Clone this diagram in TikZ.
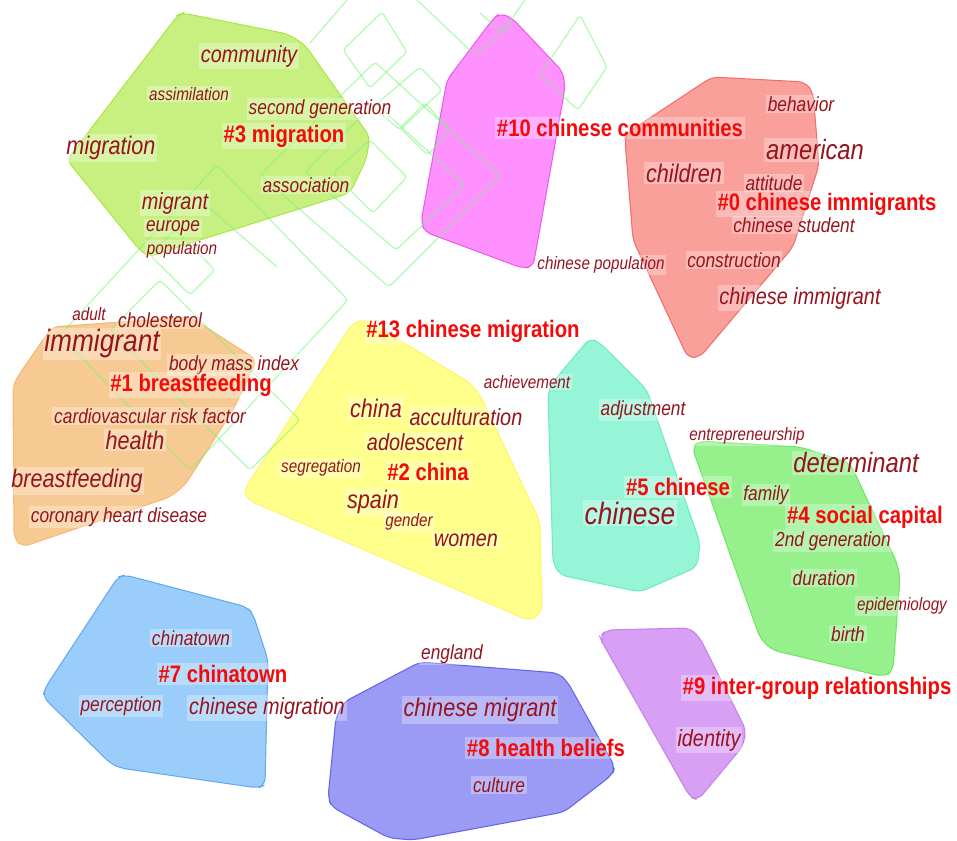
\documentclass[tikz,border=0pt]{standalone}
\usepackage{fontspec}
\setmainfont{Liberation Sans}[FakeStretch=0.85]
\definecolor{kwred}{RGB}{150,20,30}
\definecolor{labred}{RGB}{245,10,10}
\definecolor{bggreen}{RGB}{120,245,120}
\definecolor{c3}{RGB}{200,240,128}   \definecolor{c3line}{RGB}{170,232,70}
\definecolor{c10}{RGB}{255,145,255}  \definecolor{c10line}{RGB}{235,90,235}
\definecolor{c0}{RGB}{250,160,155}   \definecolor{c0line}{RGB}{240,110,110}
\definecolor{c1}{RGB}{247,202,148}   \definecolor{c1line}{RGB}{245,185,120}
\definecolor{c13}{RGB}{255,255,140}  \definecolor{c13line}{RGB}{255,245,100}
\definecolor{c5}{RGB}{150,245,215}   \definecolor{c5line}{RGB}{110,235,195}
\definecolor{c4}{RGB}{150,240,140}   \definecolor{c4line}{RGB}{110,230,100}
\definecolor{c9}{RGB}{215,160,245}   \definecolor{c9line}{RGB}{195,130,235}
\definecolor{c7}{RGB}{155,205,250}   \definecolor{c7line}{RGB}{100,170,240}
\definecolor{c8}{RGB}{155,155,245}   \definecolor{c8line}{RGB}{100,100,235}
\tikzset{
  kw/.style={text=kwred, font=\itshape\fontsize{#1}{#1}\selectfont, inner sep=1pt,
    fill=white, fill opacity=0.3, text opacity=1},
  lab/.style={text=labred, font=\bfseries\fontsize{13.6}{14}\selectfont, inner sep=1pt,
    fill=white, fill opacity=0.3, text opacity=1},
  clus/.style={fill=#1, draw=#1line, line width=0.6pt, rounded corners=4pt},
  bgline/.style={draw=bggreen, line width=0.7pt, opacity=0.55, rounded corners=2pt}
}
\begin{document}
\begin{tikzpicture}[x=0.02cm,y=-0.02cm]
 \useasboundingbox[fill=white] (0,0) rectangle (957,841);
 % cluster areas
 \draw[clus=c3] (183,13)--(288,34)--(305,45)--(370,137)--(366,160)--(350,193)--(200,240)--(148,257)--(138,248)--(67,160)--(178,15)--cycle;
 \draw[clus=c10] (500,13)--(512,18)--(563,72)--(565,88)--(533,267)--(522,268)--(425,232)--(421,222)--(447,80)--(493,19)--cycle;
 \draw[clus=c0] (627,133)--(712,77)--(805,82)--(813,92)--(819,165)--(793,247)--(700,357)--(688,358)--(633,240)--(625,140)--cycle;
 \draw[clus=c1] (20,373)--(52,327)--(190,317)--(257,360)--(233,410)--(185,485)--(170,497)--(22,547)--(14,538)--(13,385)--cycle;
 \draw[clus=c13] (352,324)--(365,319)--(470,383)--(480,395)--(540,522)--(542,612)--(530,621)--(248,500)--(244,490)--cycle;
 \draw[clus=c5] (590,338)--(600,343)--(647,390)--(700,543)--(697,567)--(640,592)--(560,575)--(553,563)--(548,393)--(552,383)--cycle;
 \draw[clus=c4] (692,447)--(700,441)--(800,447)--(850,463)--(897,563)--(900,578)--(893,670)--(885,677)--(772,650)--(760,638)--cycle;
 \draw[clus=c9] (600,637)--(606,630)--(690,628)--(700,638)--(746,730)--(743,746)--(698,800)--(690,797)--(602,642)--cycle;
 \draw[clus=c7] (118,577)--(125,575)--(247,607)--(253,614)--(268,660)--(265,785)--(258,788)--(120,768)--(110,763)--(43,697)--(45,688)--cycle;
 \draw[clus=c8] (344,702)--(420,662)--(558,673)--(567,681)--(615,767)--(612,775)--(564,812)--(413,840)--(389,838)--(332,807)--(328,798)--(336,717)--cycle;
 % background outlines
 \draw[bgline] (60,335)--(217,165)--(348,300)--(190,470)--cycle;
 \draw[bgline] (110,330)--(160,280)--(300,420)--(250,470)--cycle;
 \draw[bgline] (260,175)--(375,62)--(500,176)--(389,287)--cycle;
 \draw[bgline] (305,172)--(375,103)--(465,185)--(396,250)--cycle;
 \draw[bgline] (343,50)--(382,12)--(407,52)--(370,88)--cycle;
 \draw[bgline] (373,107)--(420,67)--(442,90)--(400,130)--cycle;
 \draw[bgline] (400,128)--(425,103)--(450,130)--(428,155)--cycle;
 \draw[bgline] (333,173)--(370,140)--(407,177)--(373,213)--cycle;
 \draw[bgline] (540,75)--(580,15)--(607,67)--(578,110)--cycle;
 \draw[bgline] (150,255)--(175,230)--(215,270)--(190,295)--cycle;
 \draw[bgline] (200,200)--(277,267);
 \draw[bgline] (310,43)--(347,0);
 \draw[bgline] (417,0)--(475,55)--(510,25);
 \draw[bgline] (480,13)--(502,33)--(525,0);
 % cluster #3
 \node[kw=13.3] (community) at (249,56) {community};
 \node[kw=10.2] (assimilation) at (189,94) {assimilation};
 \node[kw=11.6] (secondgen) at (320,109) {second generation};
 \node[lab] (c3lab) at (284,136) {\#3 migration};
 \node[kw=14.5] (migration) at (111,148) {migration};
 \node[kw=11.6] (association) at (306,185) {association};
 \node[kw=13.3] (migrant) at (175,203) {migrant};
 \node[kw=11.6] (europe) at (173,228) {europe};
 \node[kw=10.2] (population) at (182,250) {population};
 % cluster #10
 \node[lab] (c10lab) at (620,128) {\#10 chinese communities};
 \node[kw=10.2] (chinesepop) at (601,265) {chinese population};
 % cluster #0
 \node[kw=11.6] (behavior) at (801,104) {behavior};
 \node[kw=15.9] (american) at (815,150) {american};
 \node[kw=14.5] (children) at (684,173) {children};
 \node[kw=11.6] (attitude) at (774,183) {attitude};
 \node[lab] (c0lab) at (827,204) {\#0 chinese immigrants};
 \node[kw=11.6] (chinesestud) at (794,225) {chinese student};
 \node[kw=11.6] (construction) at (734,260) {construction};
 \node[kw=13.3] (chineseimm) at (800,298) {chinese immigrant};
 % cluster #1
 \node[kw=10.2] (adult) at (89,314) {adult};
 \node[kw=11.6] (cholesterol) at (160,320) {cholesterol};
 \node[kw=17.6] (immigrant) at (102,344) {immigrant};
 \node[kw=11.6] (bmi) at (234,365) {body mass index};
 \node[lab] (c1lab) at (191,385) {\#1 breastfeeding};
 \node[kw=11.6] (cardio) at (150,416) {cardiovascular risk factor};
 \node[kw=14.5] (health) at (135,440) {health};
 \node[kw=14.5] (breastfeeding) at (77,481) {breastfeeding};
 \node[kw=11.6] (coronary) at (119,517) {coronary heart disease};
 % cluster #13 and #2
 \node[lab] (c13lab) at (473,331) {\#13 chinese migration};
 \node[kw=10.2] (achievement) at (527,382) {achievement};
 \node[kw=14.5] (china) at (376,408) {china};
 \node[kw=13.3] (acculturation) at (466,417) {acculturation};
 \node[kw=13.3] (adolescent) at (415,442) {adolescent};
 \node[kw=10.2] (segregation) at (321,468) {segregation};
 \node[lab] (c2lab) at (428,472) {\#2 china};
 \node[kw=14.5] (spain) at (373,502) {spain};
 \node[kw=10.2] (gender) at (409,522) {gender};
 \node[kw=13.3] (women) at (466,540) {women};
 % cluster #5
 \node[kw=11.6] (adjustment) at (643,410) {adjustment};
 \node[lab] (c5lab) at (678,487) {\#5 chinese};
 \node[kw=17.6] (chinese) at (630,513) {chinese};
 % cluster #4
 \node[kw=10.2] (entrepreneurship) at (747,436) {entrepreneurship};
 \node[kw=15.9] (determinant) at (856,463) {determinant};
 \node[kw=11.6] (family) at (766,495) {family};
 \node[lab] (c4lab) at (865,517) {\#4 social capital};
 \node[kw=11.6] (secondgen2) at (833,541) {2nd generation};
 \node[kw=11.6] (duration) at (824,578) {duration};
 \node[kw=10.2] (epidemiology) at (902,606) {epidemiology};
 \node[kw=11.6] (birth) at (848,634) {birth};
 % cluster #9
 \node[lab] (c9lab) at (817,688) {\#9 inter-group relationships};
 \node[kw=13.3] (identity) at (709,740) {identity};
 % cluster #7
 \node[kw=11.6] (chinatown) at (191,638) {chinatown};
 \node[lab] (c7lab) at (223,674) {\#7 chinatown};
 \node[kw=11.6] (perception) at (121,706) {perception};
 \node[kw=13.3] (chinesemig) at (267,708) {chinese migration};
 % cluster #8
 \node[kw=11.6] (england) at (452,654) {england};
 \node[kw=14.5] (chinesemigrant) at (480,710) {chinese migrant};
 \node[lab] (c8lab) at (546,748) {\#8 health beliefs};
 \node[kw=11.6] (culture) at (499,785) {culture};
\end{tikzpicture}
\end{document}
